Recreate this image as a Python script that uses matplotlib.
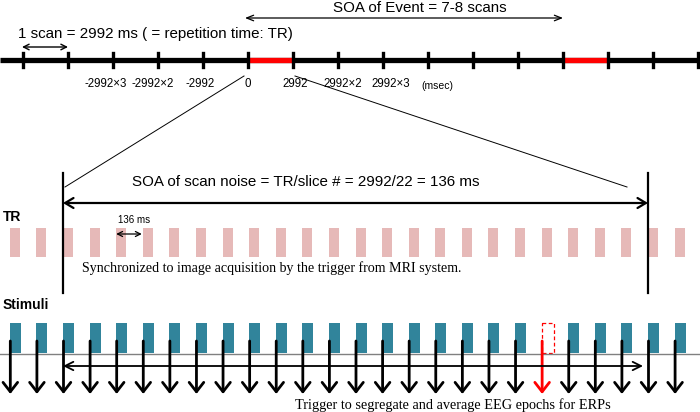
import matplotlib
matplotlib.use('Agg')
import matplotlib.pyplot as plt
from matplotlib.patches import Rectangle

# top timeline, in scans (1 scan = TR = 2992 ms)
scan_ticks = list(range(-5, 11))
event_scans = [(0, 1), (7, 8)]
tick_scans = [-3, -2, -1, 0, 1, 2, 3]
tick_labels = ['-2992×3', '-2992×2', '-2992', '0', '2992', '2992×2', '2992×3']

# lower panels, in slices (22 slices per TR)
slices = list(range(-2, 24))
missing_stim = 18          # omitted stimulus, red trigger
n_slice = 22

# layout helpers (pixel space of a 700x412 picture)
def sx(scan):
    return 248 + 45 * scan

def tx(k):
    return 63 + (648 - 63) / n_slice * k

PINK = '#e6b9b8'
TEAL = '#31849b'
GOTHIC = ['Liberation Sans', 'DejaVu Sans']
MINCHO = ['Liberation Serif', 'DejaVu Serif']

fig = plt.figure(figsize=(7, 4.12), dpi=100)
ax = fig.add_axes([0, 0, 1, 1])
ax.set_xlim(0, 700)
ax.set_ylim(412, 0)
ax.axis('off')

# ---- top timeline
ty = 60
ax.plot([0, 700], [ty, ty], color='black', lw=3.8, solid_capstyle='butt', zorder=2)
for a, b in event_scans:
    ax.plot([sx(a), sx(b)], [ty, ty], color='red', lw=3.8, solid_capstyle='butt', zorder=3)
for s in scan_ticks:
    ax.plot([sx(s), sx(s)], [53, 67], color='black', lw=2.4, zorder=4)
for s, lab in zip(tick_scans, tick_labels):
    # labels sit a little outward from their ticks, as in the original
    ax.text(sx(s) + 2.5 * s, 84, lab, ha='center', va='center', fontsize=8.3, family=GOTHIC)
ax.text(sx(3) + 38, 86, '(msec)', ha='left', va='center', fontsize=7.5, family=GOTHIC)

ax.text(18, 34, '1 scan = 2992 ms ( = repetition time: TR)', ha='left', va='center',
        fontsize=10.9, family=GOTHIC)
ax.annotate('', xy=(sx(-5) - 1, 47), xytext=(sx(-4), 47),
            arrowprops=dict(arrowstyle='<->,head_length=0.4,head_width=0.2', lw=1,
                            color='black', shrinkA=0, shrinkB=0, mutation_scale=10))
ax.text(333, 8, 'SOA of Event = 7-8 scans', ha='left', va='center', fontsize=10.9, family=GOTHIC)
ax.annotate('', xy=(sx(0) - 3, 18), xytext=(sx(7), 18),
            arrowprops=dict(arrowstyle='<->,head_length=0.5,head_width=0.2', lw=0.9,
                            color='black', shrinkA=0, shrinkB=0, mutation_scale=10))

# zoom lines from one TR to the slice panel
ax.plot([sx(0) - 4, tx(0) + 2], [76, 187], color='black', lw=0.7)
ax.plot([sx(1) + 2, tx(n_slice) - 21], [76, 187], color='black', lw=0.7)

# ---- TR panel
ax.plot([tx(0), tx(0)], [173, 293], color='black', lw=1.6)
ax.plot([tx(n_slice), tx(n_slice)], [173, 293], color='black', lw=1.6)
ax.text(132, 182, 'SOA of scan noise = TR/slice # = 2992/22 = 136 ms', ha='left', va='center',
        fontsize=10.9, family=GOTHIC)
ax.annotate('', xy=(tx(0), 203), xytext=(tx(n_slice), 203),
            arrowprops=dict(arrowstyle='<->,head_length=0.5,head_width=0.3', lw=1.6,
                            color='black', shrinkA=0, shrinkB=0, mutation_scale=12))
ax.text(3, 217, 'TR', ha='left', va='center', fontsize=10, fontweight='bold', family=GOTHIC)
for k in slices:
    ax.add_patch(Rectangle((tx(k), 228), 10, 29, facecolor=PINK, edgecolor='none'))
ax.text(118, 220, '136 ms', ha='left', va='center', fontsize=7, family=GOTHIC)
ax.annotate('', xy=(tx(2), 234), xytext=(tx(3) - 1, 234),
            arrowprops=dict(arrowstyle='<->,head_length=0.4,head_width=0.2', lw=0.9,
                            color='black', shrinkA=0, shrinkB=0, mutation_scale=9))
ax.text(82, 268, 'Synchronized to image acquisition by the trigger from MRI system.',
        ha='left', va='center', fontsize=10.1, family=MINCHO)

# ---- Stimuli panel
ax.text(3, 305, 'Stimuli', ha='left', va='center', fontsize=10, fontweight='bold', family=GOTHIC)
for k in slices:
    if k == missing_stim:
        ax.add_patch(Rectangle((tx(k), 323), 12, 30, facecolor='none', edgecolor='red',
                               lw=0.9, ls=(0, (3, 2))))
    else:
        ax.add_patch(Rectangle((tx(k), 323), 11, 30, facecolor=TEAL, edgecolor='none'))
ax.plot([0, 700], [354, 354], color='#808080', lw=1)
for k in slices:
    col = 'red' if k == missing_stim else 'black'
    ax.annotate('', xy=(tx(k) + 0.5, 394), xytext=(tx(k) + 0.5, 341),
                arrowprops=dict(arrowstyle='->,head_length=0.45,head_width=0.35', lw=2,
                                color=col, shrinkA=0, shrinkB=0, mutation_scale=15))
ax.annotate('', xy=(tx(0), 366), xytext=(tx(n_slice) - 5, 366),
            arrowprops=dict(arrowstyle='<->,head_length=0.5,head_width=0.25', lw=1.3,
                            color='black', shrinkA=0, shrinkB=0, mutation_scale=12))
ax.text(295, 405, 'Trigger to segregate and average EEG epochs for ERPs',
        ha='left', va='center', fontsize=10.3, family=MINCHO)

fig.savefig('out.png', dpi=100)
